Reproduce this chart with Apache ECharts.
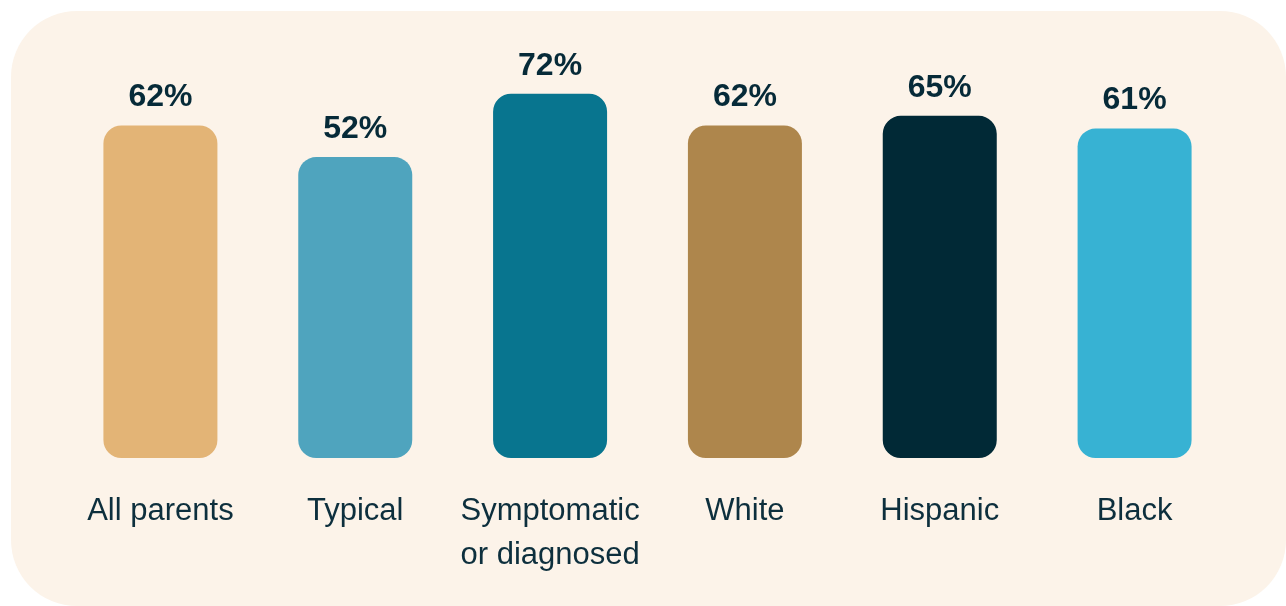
<!DOCTYPE html>
<html>
<head>
<meta charset="utf-8">
<style>
  html, body { margin: 0; padding: 0; background: #ffffff; }
  #chart { width: 1286px; height: 606px; }
</style>
<script src="https://cdn.jsdelivr.net/npm/echarts@6/dist/echarts.min.js"></script>
</head>
<body>
<div id="chart"></div>
<script>
const categories = ['All parents', 'Typical', 'Symptomatic\nor diagnosed', 'White', 'Hispanic', 'Black'];
const values = [62, 52, 72, 62, 65, 61];
const barColors = ['#e3b476', '#4fa4be', '#08758f', '#ae864c', '#012936', '#37b2d3'];

const chart = echarts.init(document.getElementById('chart'), null, { renderer: 'canvas' });
chart.setOption({
  backgroundColor: '#ffffff',
  animation: false,
  graphic: [{
    type: 'rect',
    z: -10,
    silent: true,
    shape: { x: 11, y: 11, width: 1275, height: 595, r: 66 },
    style: { fill: '#fcf3e9' }
  }],
  grid: { left: 63, right: 54, top: 5, bottom: 148 },
  xAxis: {
    type: 'category',
    data: categories,
    axisLine: { show: false },
    axisTick: { show: false },
    axisLabel: {
      margin: 31,
      fontFamily: 'Liberation Sans',
      fontSize: 31,
      lineHeight: 44,
      color: '#0d2f3d',
      interval: 0
    }
  },
  yAxis: {
    type: 'value',
    min: -43,
    max: 100,
    startValue: -43,
    show: false,
    splitLine: { show: false }
  },
  series: [{
    type: 'bar',
    barWidth: 114,
    data: values.map((v, i) => ({ value: v, itemStyle: { color: barColors[i] } })),
    itemStyle: { borderRadius: 18 },
    label: {
      show: true,
      position: 'top',
      distance: 12,
      formatter: '{c}%',
      fontFamily: 'Liberation Sans',
      fontWeight: 'bold',
      fontSize: 32,
      color: '#062a38'
    }
  }]
});
</script>
</body>
</html>
